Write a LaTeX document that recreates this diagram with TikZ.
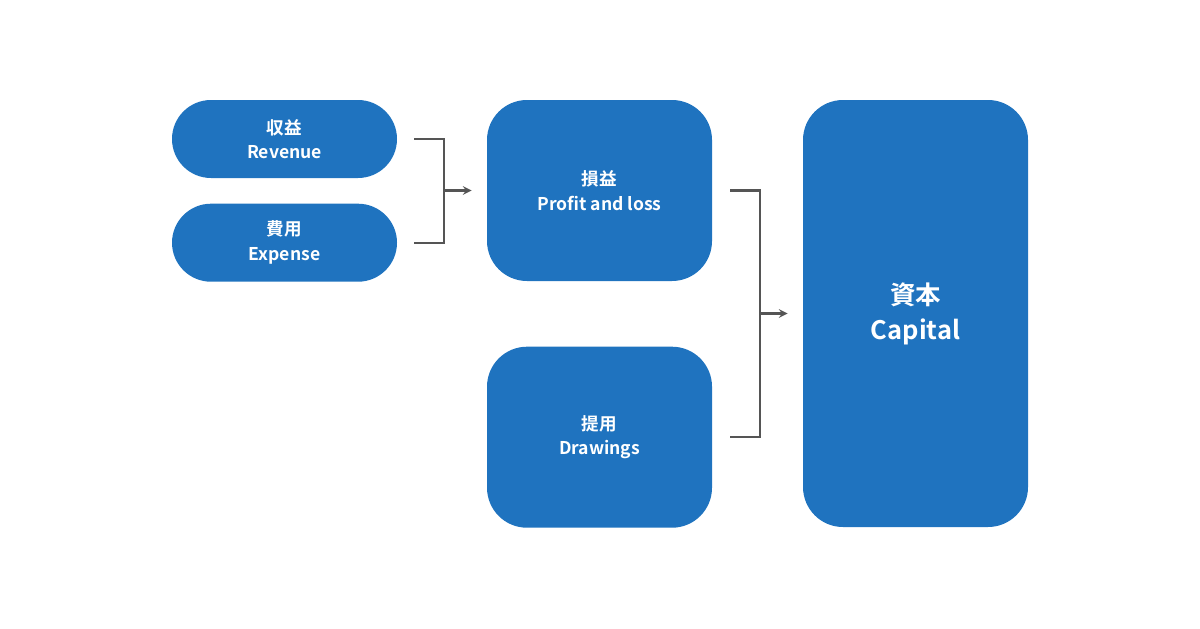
\documentclass[tikz,border=0pt]{standalone}
\usepackage{fontspec}
\setmainfont{Noto Sans CJK JP}[BoldFont={Noto Sans CJK JP Bold}]
\usetikzlibrary{positioning}
\definecolor{boxblue}{HTML}{1F73BF}
\definecolor{linegray}{HTML}{555555}
\tikzset{
  box/.style={rectangle,fill=boxblue,text=white,align=center,minimum width=4.5cm,font=\bfseries\fontsize{10}{14}\selectfont},
  pill/.style={box,minimum height=1.56cm,rounded corners=.78cm},
  tall/.style={box,rounded corners=.8cm},
  link/.style={draw=linegray,line width=1.2pt},
  arr/.style={link,-stealth}
}
\begin{document}
\begin{tikzpicture}
  \useasboundingbox (0,0) rectangle (24,-12.56);
  \node(rev)[pill] at (5.69,-2.78){収益\\Revenue};
  \node(exp)[pill,below =.5cm of rev]{費用\\Expense};
  \node(pl)[tall,minimum height=3.62cm] at (11.99,-3.81){損益\\Profit and loss};
  \node(dr)[tall,minimum height=3.62cm,below =1.3cm of pl]{提用\\Drawings};
  \node(cap)[tall,minimum height=8.54cm,font=\bfseries\fontsize{14.5}{20}\selectfont] at (18.31,-6.27){資本\\Capital};
\draw[link]([xshift=.34cm]rev.east) -- ++(.6,0) |- ([xshift=.34cm]exp.east);
\draw[arr]([xshift=-.86cm]pl.west) -- ([xshift=-.3cm]pl.west);
\draw[link]([xshift=.36cm]pl.east) -- ++(.6,0) |- ([xshift=.36cm]dr.east);
\draw[arr]([xshift=-.86cm]cap.west) -- ([xshift=-.3cm]cap.west);
\end{tikzpicture}
\end{document}
